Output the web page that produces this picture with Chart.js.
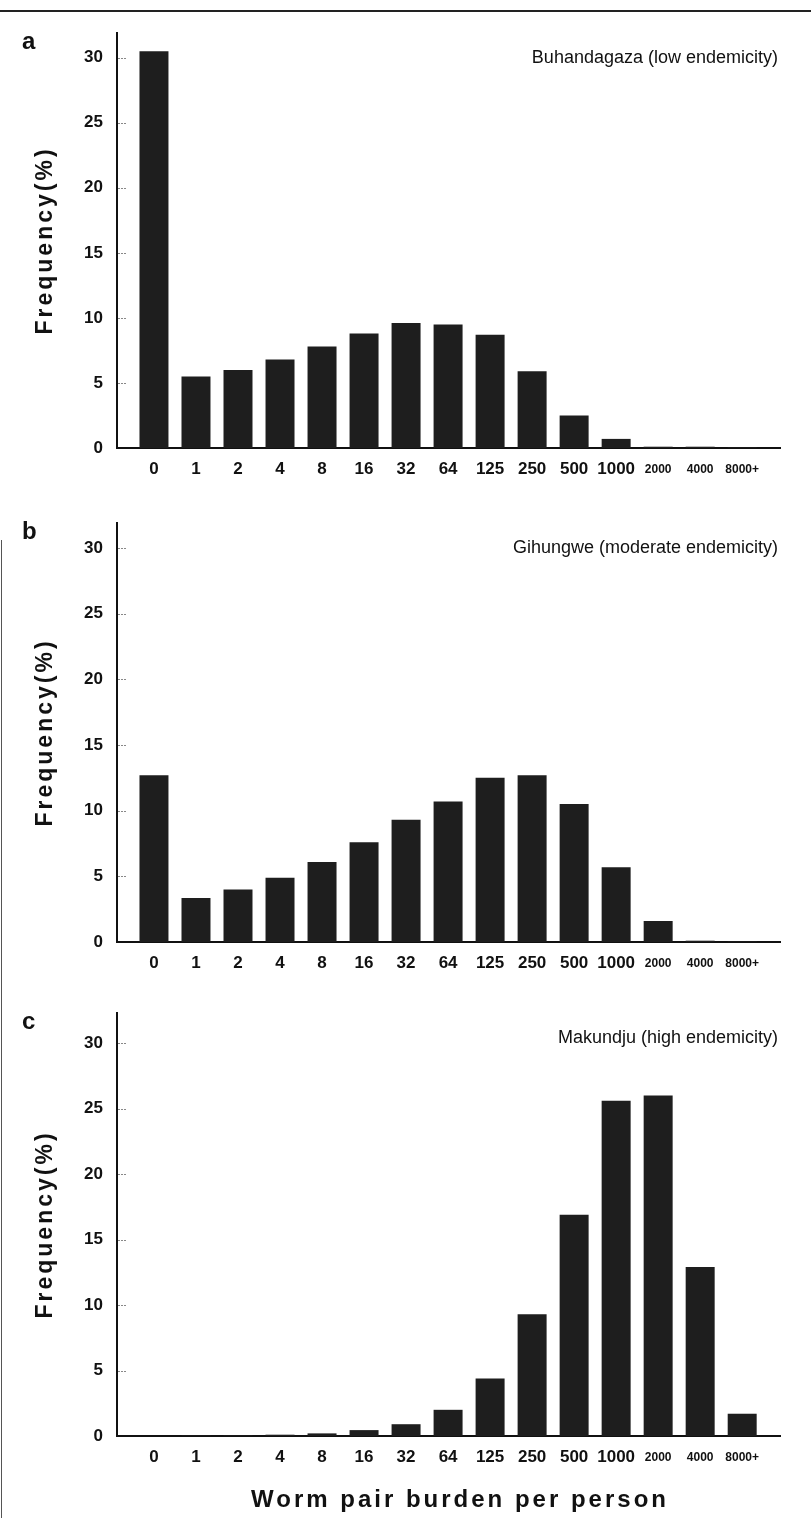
<!DOCTYPE html>
<html>
<head>
<meta charset="utf-8">
<script src="https://cdn.jsdelivr.net/npm/chart.js@4.4.1/dist/chart.umd.min.js"></script>
<style>
  body { margin: 0; background: #fff; }
  #page { position: relative; width: 811px; height: 1518px; overflow: hidden; background: #fff; }
  .panel { position: absolute; left: 0; width: 811px; }
  #rule { position: absolute; left: 0; top: 10px; width: 811px; height: 2px; background: #222; }
  #edge { position: absolute; left: 1px; top: 540px; width: 1px; height: 978px; background: #555; }
</style>
</head>
<body>
<div id="page">
  <div id="rule"></div>
  <div id="edge"></div>
  <div class="panel" style="top:0;height:494px"><canvas id="chartA"></canvas></div>
  <div class="panel" style="top:494px;height:494px"><canvas id="chartB"></canvas></div>
  <div class="panel" style="top:988px;height:530px"><canvas id="chartC"></canvas></div>
</div>
<script>
// worm pair burden classes on the x axis
const burdenLabels = ['0', '1', '2', '4', '8', '16', '32', '64', '125', '250', '500', '1000', '2000', '4000', '8000+'];
// frequency (%) of people in each class
const buhandagaza = [30.5, 5.5, 6.0, 6.8, 7.8, 8.8, 9.6, 9.5, 8.7, 5.9, 2.5, 0.7, 0.1, 0.1, 0.05];
const gihungwe = [12.7, 3.35, 4.0, 4.9, 6.1, 7.6, 9.3, 10.7, 12.5, 12.7, 10.5, 5.7, 1.6, 0.1, 0.05];
const makundju = [0, 0.05, 0.05, 0.1, 0.2, 0.45, 0.9, 2.0, 4.4, 9.3, 16.9, 25.6, 26.0, 12.9, 1.7];
const yTicks = [0, 5, 10, 15, 20, 25, 30];

const FONT = '"Liberation Sans", Arial, Helvetica, sans-serif';

// letters, site names, axis titles and the small inward ticks
const panelDecor = {
    id: 'panelDecor',
    afterDraw(chart, args, opts) {
        const ctx = chart.ctx;
        const area = chart.chartArea;
        const y = chart.scales.y;
        ctx.save();
        ctx.strokeStyle = '#888';
        ctx.lineWidth = 1;
        ctx.setLineDash([2, 1]);
        yTicks.forEach(function (t) {
            if (t === 0) return;
            const py = Math.round(y.getPixelForValue(t)) + 0.5;
            ctx.beginPath();
            ctx.moveTo(area.left + 1, py);
            ctx.lineTo(area.left + 10, py);
            ctx.stroke();
        });
        ctx.setLineDash([]);

        ctx.fillStyle = '#111';
        ctx.textBaseline = 'middle';
        ctx.font = 'bold 24px ' + FONT;
        ctx.textAlign = 'left';
        ctx.fillText(opts.letter, 22, area.top + 9);

        ctx.font = '18px ' + FONT;
        ctx.textAlign = 'right';
        ctx.fillText(opts.title, area.right - 2, area.top + 25);

        if (opts.xTitle) {
            ctx.save();
            ctx.font = 'bold 24px ' + FONT;
            ctx.letterSpacing = '3px';
            ctx.textAlign = 'center';
            ctx.fillText(opts.xTitle, 460, area.bottom + 64);
            ctx.restore();
        }

        ctx.translate(46, (area.top + area.bottom) / 2);
        ctx.rotate(-Math.PI / 2);
        ctx.font = 'bold 23px ' + FONT;
        ctx.letterSpacing = '3px';
        ctx.textAlign = 'center';
        ctx.fillText('Frequency(%)', 0, 0);
        ctx.restore();
    }
};

function makePanel(id, values, opt) {
    const ctx = document.getElementById(id);
    return new Chart(ctx, {
        type: 'bar',
        data: {
            datasets: [{
                data: values.map(function (v, i) { return { x: i, y: v }; }),
                backgroundColor: '#1e1e1e',
                barPercentage: 0.69,
                categoryPercentage: 1
            }]
        },
        options: {
            responsive: true,
            maintainAspectRatio: false,
            animation: false,
            layout: { padding: { top: opt.top, right: 31, bottom: opt.bottom, left: 0 } },
            plugins: {
                legend: { display: false },
                tooltip: { enabled: false },
                panelDecor: { letter: opt.letter, title: opt.title, xTitle: opt.xTitle }
            },
            scales: {
                x: {
                    type: 'linear',
                    min: -0.88,
                    max: 14.9,
                    offset: false,
                    grid: { display: false, drawTicks: false },
                    border: { display: true, width: 2, color: '#111' },
                    afterBuildTicks: function (s) {
                        s.ticks = burdenLabels.map(function (l, i) { return { value: i }; });
                    },
                    afterFit: function (s) { s.height = 46; },
                    ticks: {
                        autoSkip: false,
                        maxRotation: 0,
                        padding: 11,
                        color: '#111',
                        callback: function (v) { return burdenLabels[v]; },
                        font: function (c) {
                            return c.index >= 12
                                ? { family: FONT, weight: 'bold', size: 12, lineHeight: 1.7 }
                                : { family: FONT, weight: 'bold', size: 17, lineHeight: 1.2 };
                        }
                    }
                },
                y: {
                    min: 0,
                    max: opt.yMax,
                    grid: { display: false, drawTicks: false },
                    border: { display: true, width: 2, color: '#111' },
                    afterBuildTicks: function (s) {
                        s.ticks = yTicks.map(function (v) { return { value: v }; });
                    },
                    afterFit: function (s) { s.width = 117; },
                    ticks: {
                        padding: 14,
                        color: '#111',
                        font: { family: FONT, weight: 'bold', size: 17 }
                    }
                }
            }
        },
        plugins: [panelDecor]
    });
}

makePanel('chartA', buhandagaza, { letter: 'a', title: 'Buhandagaza (low endemicity)', top: 33, bottom: 0, yMax: 31.9 });
makePanel('chartB', gihungwe, { letter: 'b', title: 'Gihungwe (moderate endemicity)', top: 29, bottom: 0, yMax: 31.9 });
makePanel('chartC', makundju, { letter: 'c', title: 'Makundju (high endemicity)', top: 25, bottom: 36, yMax: 32.3, xTitle: 'Worm pair burden per person' });
</script>
</body>
</html>
